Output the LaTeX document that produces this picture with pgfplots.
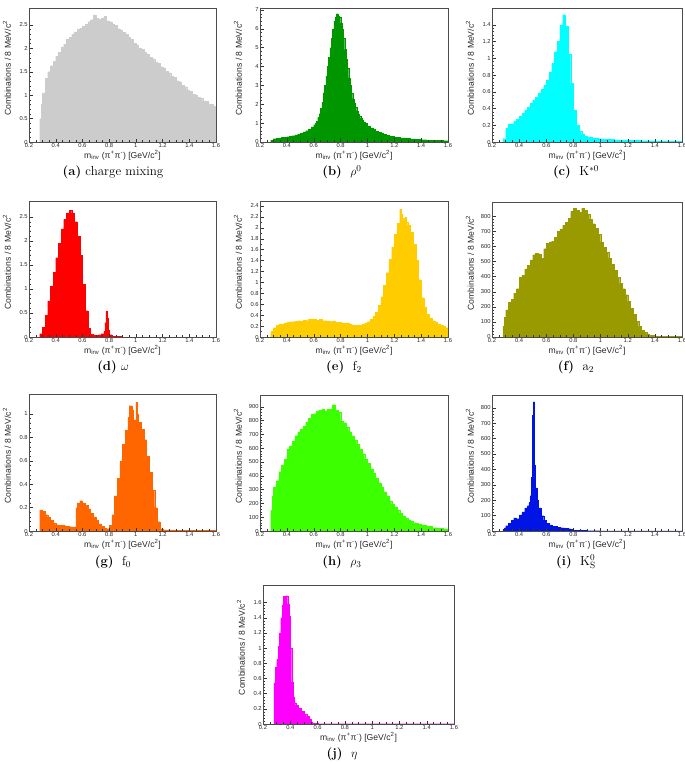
\documentclass[border=0pt]{standalone}
\usepackage{pgfplots}
\pgfplotsset{compat=1.18}
\usepackage{fontspec}
\newfontfamily\rootsans{Liberation Sans}

\definecolor{cA}{RGB}{204,204,204}
\definecolor{cB}{RGB}{0,150,0}
\definecolor{cC}{RGB}{0,255,255}
\definecolor{cD}{RGB}{255,0,0}
\definecolor{cE}{RGB}{255,204,0}
\definecolor{cF}{RGB}{153,153,0}
\definecolor{cG}{RGB}{255,102,0}
\definecolor{cH}{RGB}{60,255,0}
\definecolor{cI}{RGB}{0,20,230}
\definecolor{cJ}{RGB}{255,0,255}

\pgfplotsset{
  hist/.style={
    scale only axis, anchor=north west,
    xmin=0.2, xmax=1.6, ymin=0,
    xtick={0.2,0.4,0.6,0.8,1,1.2,1.4,1.6},
    xticklabels={0.2,0.4,0.6,0.8,1,1.2,1.4,1.6},
    minor x tick num=3, minor y tick num=4,
    tick align=inside, xtick pos=lower, ytick pos=left,
    major tick length=3.5pt, minor tick length=1.8pt,
    axis line style={black!70, line width=0.4pt},
    every tick/.style={black!80, line width=0.3pt},
    tick label style={font=\rootsans\fontsize{5.8}{6}\selectfont, black!85},
    /pgf/number format/assume math mode=true,
    xticklabel style={inner sep=1.2pt},
    yticklabel style={inner sep=1.2pt},
    xlabel={m\textsubscript{inv} (π\textsuperscript{+}π\textsuperscript{-}) [GeV/c\textsuperscript{2}]},
    ylabel={Combinations / 8 MeV/c\textsuperscript{2}},
    every axis x label/.style={at={(rel axis cs:0.5,0)}, anchor=center, yshift=-13pt, font=\rootsans\fontsize{8.6}{9}\selectfont, text=black!85},
    every axis y label/.style={at={(rel axis cs:0,0.55)}, xshift=-22pt, rotate=90, anchor=center, font=\rootsans\fontsize{8.6}{9}\selectfont, text=black!85},
    axis on top,
  },
  hst/.style={fill=#1, draw=#1, line width=0.1pt, const plot mark left},
}
\newcommand{\tenthree}{\node[anchor=south west, inner sep=0.5pt, yshift=-1.2pt, font=\rootsans\fontsize{5}{5}\selectfont, black!85] at (rel axis cs:0,1) {×10\textsuperscript{3}};}
\newcommand{\capt}[2]{\node[font=\fontsize{13}{15}\selectfont, anchor=center] at #1 {#2};}

\begin{document}
\begin{tikzpicture}
\useasboundingbox (0,0) rectangle (685pt,-764pt);

% (a)
\begin{axis}[hist, at={(29pt,-8pt)}, width=187pt, height=134pt, ymax=2.86, ytick={0,0.5,1,1.5,2,2.5}]
\addplot[hst=cA] coordinates {(0.28,0.50)(0.29,0.80)(0.30,1.05)(0.32,1.36)(0.34,1.50)(0.36,1.63)(0.38,1.72)(0.40,1.84)(0.42,1.92)(0.44,2.03)(0.46,2.09)(0.48,2.19)(0.50,2.24)(0.52,2.31)(0.54,2.35)(0.56,2.41)(0.58,2.43)(0.60,2.48)(0.62,2.51)(0.64,2.57)(0.66,2.61)(0.68,2.70)(0.70,2.64)(0.72,2.62)(0.74,2.65)(0.76,2.68)(0.78,2.59)(0.80,2.57)(0.82,2.51)(0.84,2.49)(0.86,2.42)(0.88,2.39)(0.90,2.34)(0.92,2.31)(0.94,2.23)(0.96,2.19)(0.98,2.11)(1.00,2.08)(1.02,2.01)(1.04,1.98)(1.06,1.91)(1.08,1.88)(1.10,1.81)(1.12,1.78)(1.14,1.71)(1.16,1.68)(1.18,1.61)(1.20,1.58)(1.22,1.51)(1.24,1.48)(1.26,1.41)(1.28,1.38)(1.30,1.31)(1.32,1.29)(1.34,1.21)(1.36,1.18)(1.38,1.11)(1.40,1.08)(1.42,1.02)(1.44,1.00)(1.46,0.95)(1.48,0.93)(1.50,0.88)(1.52,0.87)(1.54,0.82)(1.56,0.81)(1.58,0.76)(1.60,0.76)} \closedcycle;
\tenthree
\end{axis}

% (b)
\begin{axis}[hist, at={(260pt,-8pt)}, width=188pt, height=134pt, ymax=7.1, ytick={0,1,2,3,4,5,6,7}]
\addplot[hst=cB] coordinates {(0.28,0.10)(0.30,0.18)(0.32,0.20)(0.34,0.22)(0.36,0.24)(0.38,0.26)(0.40,0.28)(0.42,0.31)(0.44,0.34)(0.46,0.38)(0.48,0.42)(0.50,0.47)(0.52,0.53)(0.54,0.60)(0.56,0.70)(0.58,0.80)(0.60,0.92)(0.61,1.00)(0.62,1.10)(0.63,1.30)(0.64,1.50)(0.65,1.80)(0.66,2.10)(0.67,2.60)(0.68,3.00)(0.69,3.50)(0.70,4.00)(0.71,4.50)(0.72,5.00)(0.73,5.50)(0.74,6.00)(0.75,6.40)(0.76,6.60)(0.77,6.80)(0.78,6.70)(0.79,6.60)(0.80,6.30)(0.81,6.00)(0.82,5.50)(0.83,4.90)(0.84,4.40)(0.85,3.90)(0.86,3.40)(0.87,3.00)(0.88,2.60)(0.89,2.30)(0.90,2.05)(0.91,1.85)(0.92,1.65)(0.93,1.50)(0.94,1.35)(0.95,1.25)(0.96,1.15)(0.97,1.05)(0.98,1.00)(1.00,0.85)(1.02,0.75)(1.04,0.66)(1.06,0.58)(1.08,0.51)(1.10,0.45)(1.12,0.40)(1.14,0.36)(1.16,0.32)(1.18,0.29)(1.20,0.26)(1.24,0.22)(1.28,0.19)(1.32,0.16)(1.36,0.14)(1.40,0.12)(1.44,0.10)(1.48,0.09)(1.52,0.08)(1.56,0.07)(1.60,0.07)} \closedcycle;
\tenthree
\end{axis}

% (c)
\begin{axis}[hist, at={(492pt,-8pt)}, width=190pt, height=134pt, ymax=1.6, ytick={0,0.2,0.4,0.6,0.8,1,1.2,1.4}]
\addplot[hst=cC] coordinates {(0.28,0.04)(0.30,0.17)(0.32,0.21)(0.34,0.22)(0.36,0.25)(0.38,0.27)(0.40,0.31)(0.42,0.34)(0.44,0.38)(0.46,0.42)(0.48,0.46)(0.50,0.50)(0.52,0.54)(0.54,0.58)(0.56,0.63)(0.58,0.68)(0.60,0.74)(0.62,0.83)(0.64,0.94)(0.66,1.08)(0.68,1.20)(0.70,1.40)(0.72,1.52)(0.74,1.38)(0.76,1.05)(0.78,0.70)(0.80,0.38)(0.82,0.20)(0.84,0.13)(0.86,0.09)(0.88,0.07)(0.90,0.06)(0.94,0.05)(0.98,0.04)(1.02,0.035)(1.06,0.03)(1.10,0.025)(1.20,0.02)(1.30,0.015)(1.40,0.012)(1.50,0.01)(1.60,0.01)} \closedcycle;
\tenthree
\end{axis}

% (d)
\begin{axis}[hist, at={(29pt,-201pt)}, width=187pt, height=136pt, ymax=2.83, ytick={0,0.5,1,1.5,2,2.5}]
\addplot[hst=cD] coordinates {(0.28,0.07)(0.30,0.20)(0.32,0.45)(0.34,0.75)(0.36,1.05)(0.38,1.35)(0.40,1.65)(0.42,1.95)(0.44,2.25)(0.46,2.45)(0.48,2.58)(0.50,2.64)(0.52,2.58)(0.54,2.40)(0.56,2.10)(0.58,1.70)(0.60,1.10)(0.62,0.55)(0.64,0.18)(0.66,0.06)(0.68,0.04)(0.70,0.04)(0.72,0.05)(0.74,0.07)(0.76,0.12)(0.768,0.30)(0.776,0.54)(0.784,0.40)(0.792,0.15)(0.80,0.05)(0.82,0.02)(0.86,0.01)(0.90,0.0)(1.60,0.0)} \closedcycle;
\tenthree
\end{axis}

% (e)
\begin{axis}[hist, at={(260pt,-201pt)}, width=188pt, height=136pt, ymax=2.49, ytick={0,0.2,0.4,0.6,0.8,1,1.2,1.4,1.6,1.8,2,2.2,2.4}, minor y tick num=1]
\addplot[hst=cE] coordinates {(0.28,0.10)(0.30,0.17)(0.32,0.21)(0.34,0.23)(0.36,0.24)(0.38,0.26)(0.40,0.27)(0.42,0.28)(0.44,0.28)(0.46,0.29)(0.48,0.30)(0.50,0.29)(0.52,0.31)(0.54,0.30)(0.56,0.32)(0.58,0.33)(0.60,0.32)(0.62,0.31)(0.64,0.32)(0.66,0.30)(0.68,0.30)(0.70,0.29)(0.72,0.28)(0.74,0.29)(0.76,0.27)(0.78,0.27)(0.80,0.26)(0.82,0.25)(0.84,0.26)(0.86,0.23)(0.88,0.22)(0.90,0.21)(0.92,0.22)(0.94,0.22)(0.96,0.24)(0.98,0.26)(1.00,0.28)(1.02,0.32)(1.04,0.38)(1.06,0.46)(1.08,0.58)(1.10,0.74)(1.12,0.95)(1.14,1.18)(1.16,1.42)(1.18,1.65)(1.20,1.88)(1.22,2.08)(1.24,2.34)(1.25,2.25)(1.26,2.18)(1.27,2.14)(1.28,2.20)(1.29,2.10)(1.30,2.05)(1.32,1.92)(1.34,1.70)(1.36,1.40)(1.38,1.05)(1.40,0.72)(1.42,0.55)(1.44,0.42)(1.46,0.35)(1.48,0.30)(1.50,0.27)(1.52,0.24)(1.54,0.22)(1.56,0.20)(1.58,0.17)(1.60,0.17)} \closedcycle;
\tenthree
\end{axis}

% (f)
\begin{axis}[hist, at={(492pt,-202pt)}, width=190pt, height=135pt, ymax=893, ytick={0,100,200,300,400,500,600,700,800}]
\addplot[hst=cF] coordinates {(0.28,70)(0.29,130)(0.30,180)(0.32,230)(0.34,250)(0.36,290)(0.38,320)(0.40,395)(0.42,410)(0.44,450)(0.46,475)(0.48,510)(0.50,545)(0.52,555)(0.54,550)(0.56,520)(0.58,585)(0.60,620)(0.62,630)(0.64,635)(0.66,660)(0.68,700)(0.70,715)(0.72,740)(0.74,760)(0.76,785)(0.78,830)(0.80,850)(0.82,840)(0.84,825)(0.86,852)(0.88,840)(0.90,815)(0.92,780)(0.94,750)(0.96,720)(0.98,680)(1.00,630)(1.02,595)(1.04,560)(1.06,520)(1.08,480)(1.10,440)(1.12,395)(1.14,355)(1.16,320)(1.18,280)(1.20,235)(1.22,190)(1.24,150)(1.26,105)(1.28,70)(1.30,45)(1.32,30)(1.34,20)(1.36,12)(1.40,6)(1.50,3)(1.60,3)} \closedcycle;
\end{axis}

% (g)
\begin{axis}[hist, at={(29pt,-394pt)}, width=187pt, height=137pt, ymax=1.17, ytick={0,0.2,0.4,0.6,0.8,1}]
\addplot[hst=cG] coordinates {(0.28,0.18)(0.30,0.17)(0.32,0.14)(0.34,0.12)(0.36,0.09)(0.38,0.07)(0.40,0.055)(0.42,0.05)(0.44,0.048)(0.46,0.045)(0.48,0.04)(0.50,0.038)(0.52,0.036)(0.54,0.035)(0.55,0.20)(0.56,0.24)(0.58,0.26)(0.60,0.24)(0.62,0.22)(0.64,0.19)(0.66,0.15)(0.68,0.12)(0.70,0.09)(0.72,0.06)(0.74,0.04)(0.76,0.025)(0.78,0.02)(0.80,0.05)(0.82,0.14)(0.84,0.30)(0.86,0.45)(0.88,0.60)(0.90,0.74)(0.92,0.86)(0.94,0.97)(0.95,1.07)(0.97,1.03)(0.98,0.80)(0.99,0.95)(1.00,1.10)(1.01,1.00)(1.02,0.93)(1.04,0.87)(1.06,0.78)(1.08,0.64)(1.10,0.50)(1.12,0.35)(1.14,0.20)(1.16,0.08)(1.18,0.02)(1.20,0.01)(1.30,0.005)(1.60,0.005)} \closedcycle;
\tenthree
\end{axis}

% (h)
\begin{axis}[hist, at={(260pt,-395pt)}, width=188pt, height=136pt, ymax=985, ytick={0,100,200,300,400,500,600,700,800,900}]
\addplot[hst=cH] coordinates {(0.28,150)(0.29,250)(0.30,320)(0.32,365)(0.34,430)(0.36,475)(0.38,520)(0.40,590)(0.42,615)(0.44,650)(0.46,690)(0.48,715)(0.50,735)(0.52,760)(0.54,790)(0.56,815)(0.58,845)(0.60,850)(0.62,870)(0.64,875)(0.66,885)(0.68,870)(0.70,880)(0.72,885)(0.74,915)(0.76,875)(0.78,860)(0.80,795)(0.82,785)(0.84,750)(0.86,720)(0.88,690)(0.90,660)(0.92,630)(0.94,590)(0.96,560)(0.98,520)(1.00,490)(1.02,450)(1.04,420)(1.06,380)(1.08,350)(1.10,320)(1.12,285)(1.14,250)(1.16,220)(1.18,195)(1.20,170)(1.22,150)(1.24,130)(1.26,110)(1.28,95)(1.30,80)(1.32,70)(1.34,60)(1.36,55)(1.38,50)(1.40,45)(1.44,35)(1.48,25)(1.52,20)(1.56,15)(1.60,15)} \closedcycle;
\end{axis}

% (i)
\begin{axis}[hist, at={(492pt,-395pt)}, width=190pt, height=136pt, ymax=883, ytick={0,100,200,300,400,500,600,700,800}]
\addplot[hst=cI] coordinates {(0.28,10)(0.29,20)(0.30,35)(0.32,50)(0.34,70)(0.36,85)(0.38,80)(0.40,105)(0.42,125)(0.44,150)(0.46,165)(0.472,185)(0.48,230)(0.488,350)(0.496,750)(0.504,840)(0.512,430)(0.52,280)(0.53,200)(0.54,150)(0.56,100)(0.58,70)(0.60,52)(0.62,40)(0.64,32)(0.66,30)(0.68,25)(0.70,22)(0.72,20)(0.74,18)(0.76,15)(0.78,10)(0.80,5)(0.84,3)(0.90,2)(1.00,1)(1.60,1)} \closedcycle;
\end{axis}

% (j)
\begin{axis}[hist, at={(263pt,-585pt)}, width=191pt, height=139pt, ymax=1.83, ytick={0,0.2,0.4,0.6,0.8,1,1.2,1.4,1.6}]
\addplot[hst=cJ] coordinates {(0.28,0.54)(0.29,0.75)(0.30,0.85)(0.31,1.02)(0.32,1.20)(0.33,1.40)(0.34,1.57)(0.35,1.68)(0.36,1.62)(0.37,1.69)(0.38,1.58)(0.39,1.42)(0.40,1.00)(0.41,0.55)(0.42,0.36)(0.43,0.28)(0.44,0.25)(0.46,0.21)(0.48,0.17)(0.50,0.13)(0.52,0.10)(0.54,0.06)(0.55,0.03)(0.56,0.01)(0.60,0.005)(1.60,0.005)} \closedcycle;
\tenthree
\end{axis}

\capt{(113pt,-172pt)}{\textbf{(a)} charge mixing}
\capt{(342pt,-172pt)}{\textbf{(b)}\ \ $\rho^0$}
\capt{(576pt,-172pt)}{\textbf{(c)}\ \ $\mathrm{K}^{*0}$}
\capt{(113pt,-367pt)}{\textbf{(d)} $\omega$}
\capt{(344pt,-367pt)}{\textbf{(e)}\ \ $\mathrm{f}_2$}
\capt{(576pt,-367pt)}{\textbf{(f)}\ \ $\mathrm{a}_2$}
\capt{(113pt,-562pt)}{\textbf{(g)}\ \ $\mathrm{f}_0$}
\capt{(342pt,-562pt)}{\textbf{(h)}\ \ $\rho_3$}
\capt{(576pt,-562pt)}{\textbf{(i)}\ \ $\mathrm{K}^0_\mathrm{S}$}
\capt{(342pt,-754pt)}{\textbf{(j)}\ \ $\eta$}
\end{tikzpicture}
\end{document}
